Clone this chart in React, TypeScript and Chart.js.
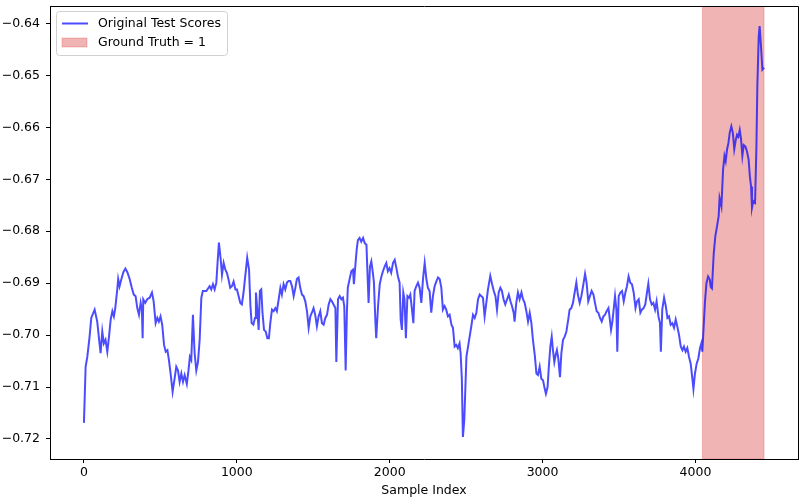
import React, { useEffect, useRef } from "react";
import { Chart, registerables } from "chart.js";

Chart.register(...registerables);

const seriesLabel = "Original Test Scores";
const spanLabel = "Ground Truth = 1";
const xAxisTitle = "Sample Index";

const sampleIndex = [
  0, 11, 22, 37, 48, 70, 87, 102, 109, 120, 130, 141, 153, 164, 175, 186, 196, 205, 218, 224,
  233, 245, 258, 271, 284, 299, 313, 326, 338, 349, 360, 371, 379, 384, 388, 401, 414, 430, 445, 456,
  469, 480, 490, 501, 512, 524, 535, 546, 556, 567, 580, 593, 604, 615, 626, 637, 648, 659, 673, 684,
  693, 702, 713, 724, 735, 746, 757, 768, 778, 801, 822, 833, 844, 855, 866, 874, 883, 895, 903, 914,
  925, 935, 946, 957, 968, 979, 991, 1001, 1012, 1023, 1033, 1044, 1055, 1068, 1080, 1089, 1097, 1108, 1119, 1125,
  1134, 1143, 1151, 1160, 1168, 1178, 1189, 1200, 1210, 1219, 1230, 1241, 1252, 1262, 1274, 1285, 1295, 1306, 1317, 1328,
  1339, 1350, 1361, 1372, 1383, 1393, 1404, 1415, 1426, 1437, 1448, 1459, 1470, 1481, 1491, 1502, 1513, 1524, 1535, 1546,
  1557, 1568, 1579, 1590, 1601, 1612, 1622, 1633, 1645, 1651, 1662, 1673, 1684, 1694, 1703, 1712, 1720, 1726, 1738, 1749,
  1760, 1766, 1775, 1784, 1792, 1803, 1814, 1826, 1837, 1848, 1854, 1862, 1871, 1880, 1890, 1897, 1906, 1912, 1924, 1935,
  1946, 1956, 1967, 1978, 1988, 1999, 2010, 2022, 2033, 2044, 2054, 2065, 2072, 2080, 2089, 2097, 2106, 2116, 2126, 2135,
  2146, 2155, 2163, 2174, 2185, 2196, 2207, 2218, 2229, 2240, 2250, 2261, 2272, 2283, 2294, 2306, 2316, 2327, 2338, 2348,
  2359, 2370, 2381, 2392, 2404, 2414, 2425, 2436, 2446, 2457, 2464, 2472, 2479, 2488, 2502, 2523, 2534, 2545, 2556, 2567,
  2578, 2589, 2600, 2610, 2621, 2632, 2643, 2658, 2670, 2681, 2692, 2702, 2713, 2724, 2734, 2745, 2756, 2768, 2779, 2790,
  2800, 2811, 2817, 2828, 2839, 2850, 2862, 2872, 2883, 2894, 2905, 2916, 2927, 2937, 2949, 2960, 2970, 2981, 2992, 3003,
  3014, 3022, 3033, 3041, 3051, 3060, 3068, 3077, 3086, 3094, 3103, 3114, 3123, 3134, 3145, 3156, 3166, 3177, 3188, 3199,
  3210, 3221, 3231, 3243, 3254, 3265, 3278, 3288, 3299, 3310, 3321, 3333, 3343, 3354, 3365, 3376, 3387, 3398, 3408, 3419,
  3431, 3439, 3448, 3457, 3465, 3474, 3483, 3489, 3498, 3509, 3520, 3531, 3542, 3552, 3563, 3574, 3585, 3596, 3608, 3618,
  3629, 3640, 3650, 3661, 3672, 3683, 3692, 3703, 3714, 3725, 3736, 3746, 3758, 3768, 3774, 3783, 3795, 3806, 3817, 3827,
  3838, 3849, 3860, 3871, 3881, 3893, 3904, 3915, 3925, 3936, 3947, 3958, 3969, 3980, 3987, 3997, 4008, 4019, 4030, 4039,
  4045, 4054, 4062, 4072, 4083, 4094, 4100, 4108, 4120, 4130, 4141, 4152, 4158, 4170, 4181, 4190, 4198, 4207, 4216, 4224,
  4235, 4245, 4254, 4264, 4272, 4281, 4290, 4298, 4307, 4316, 4327, 4337, 4348, 4356, 4364, 4370, 4379, 4390, 4399, 4405,
  4414, 4420, 4429, 4438, 4449,
];

const testScore = [
  -0.7169, -0.7061, -0.7042, -0.7003, -0.6967, -0.6951, -0.6974, -0.7016, -0.7035, -0.6993, -0.7016, -0.7009, -0.7032, -0.7003, -0.6970, -0.6954, -0.6964, -0.6948, -0.6912, -0.6892,
  -0.6906, -0.6892, -0.6879, -0.6872, -0.6879, -0.6892, -0.6909, -0.6922, -0.6925, -0.6948, -0.6961, -0.6938, -0.6951, -0.7006, -0.6931, -0.6938, -0.6931, -0.6928, -0.6918, -0.6935,
  -0.6977, -0.6967, -0.6974, -0.6964, -0.6980, -0.7019, -0.7032, -0.7029, -0.7048, -0.7074, -0.7109, -0.7084, -0.7061, -0.7068, -0.7090, -0.7074, -0.7090, -0.7077, -0.7094, -0.7068,
  -0.7042, -0.7048, -0.6961, -0.7035, -0.7068, -0.7052, -0.7009, -0.6928, -0.6915, -0.6915, -0.6906, -0.6912, -0.6902, -0.6912, -0.6899, -0.6861, -0.6822, -0.6855, -0.6884, -0.6861,
  -0.6874, -0.6880, -0.6893, -0.6909, -0.6906, -0.6897, -0.6912, -0.6912, -0.6925, -0.6938, -0.6941, -0.6918, -0.6887, -0.6851, -0.6874, -0.6944, -0.6977, -0.6980, -0.6967, -0.6918,
  -0.6951, -0.6990, -0.6915, -0.6912, -0.6957, -0.6990, -0.6993, -0.7006, -0.7006, -0.6977, -0.6951, -0.6954, -0.6948, -0.6954, -0.6931, -0.6909, -0.6922, -0.6902, -0.6912, -0.6899,
  -0.6896, -0.6896, -0.6906, -0.6925, -0.6909, -0.6892, -0.6889, -0.6909, -0.6922, -0.6925, -0.6935, -0.6954, -0.6986, -0.6964, -0.6957, -0.6948, -0.6961, -0.6983, -0.6964, -0.6954,
  -0.6977, -0.6980, -0.6967, -0.6961, -0.6941, -0.6931, -0.6935, -0.6941, -0.6948, -0.7052, -0.6931, -0.6925, -0.6931, -0.6928, -0.6944, -0.7068, -0.6957, -0.6909, -0.6892, -0.6877,
  -0.6874, -0.6902, -0.6868, -0.6836, -0.6817, -0.6813, -0.6820, -0.6813, -0.6823, -0.6826, -0.6874, -0.6938, -0.6868, -0.6858, -0.6880, -0.6899, -0.6970, -0.7006, -0.6944, -0.6902,
  -0.6887, -0.6877, -0.6868, -0.6861, -0.6877, -0.6871, -0.6880, -0.6861, -0.6855, -0.6871, -0.6887, -0.6899, -0.6970, -0.6990, -0.6918, -0.6931, -0.7006, -0.6925, -0.6928, -0.6922,
  -0.6951, -0.6977, -0.6915, -0.6906, -0.6899, -0.6909, -0.6938, -0.6892, -0.6861, -0.6892, -0.6909, -0.6915, -0.6957, -0.6925, -0.6906, -0.6896, -0.6889, -0.6892, -0.6909, -0.6951,
  -0.6944, -0.6951, -0.6964, -0.6961, -0.6980, -0.6986, -0.7022, -0.7019, -0.7025, -0.7016, -0.7035, -0.7084, -0.7196, -0.7164, -0.7042, -0.7003, -0.6983, -0.6961, -0.6967, -0.6957,
  -0.6931, -0.6922, -0.6925, -0.6928, -0.6964, -0.6938, -0.6912, -0.6886, -0.6902, -0.6915, -0.6925, -0.6951, -0.6918, -0.6909, -0.6915, -0.6931, -0.6941, -0.6931, -0.6922, -0.6935,
  -0.6944, -0.6957, -0.6974, -0.6938, -0.6918, -0.6931, -0.6918, -0.6931, -0.6938, -0.6954, -0.6974, -0.6957, -0.6977, -0.7009, -0.7038, -0.7074, -0.7077, -0.7061, -0.7084, -0.7087,
  -0.7103, -0.7113, -0.7100, -0.7061, -0.7022, -0.7003, -0.7029, -0.7052, -0.7038, -0.7029, -0.7045, -0.7081, -0.7035, -0.7009, -0.7003, -0.6993, -0.6974, -0.6951, -0.6948, -0.6938,
  -0.6918, -0.6899, -0.6922, -0.6938, -0.6925, -0.6906, -0.6882, -0.6899, -0.6935, -0.6925, -0.6915, -0.6922, -0.6938, -0.6954, -0.6957, -0.6967, -0.6974, -0.6964, -0.6961, -0.6954,
  -0.6948, -0.6967, -0.6990, -0.6974, -0.6951, -0.6925, -0.6951, -0.7032, -0.6925, -0.6918, -0.6915, -0.6935, -0.6918, -0.6906, -0.6887, -0.6899, -0.6902, -0.6918, -0.6948, -0.6935,
  -0.6931, -0.6957, -0.6951, -0.6948, -0.6941, -0.6918, -0.6901, -0.6931, -0.6941, -0.6938, -0.6951, -0.6935, -0.6964, -0.6977, -0.7032, -0.6951, -0.6928, -0.6944, -0.6967, -0.6964,
  -0.6980, -0.6977, -0.6986, -0.6970, -0.6983, -0.7000, -0.7022, -0.7029, -0.7022, -0.7032, -0.7025, -0.7042, -0.7055, -0.7084, -0.7104, -0.7074, -0.7055, -0.7045, -0.7025, -0.7016,
  -0.7032, -0.6983, -0.6938, -0.6900, -0.6887, -0.6893, -0.6907, -0.6910, -0.6842, -0.6810, -0.6791, -0.6771, -0.6736, -0.6752, -0.6681, -0.6655, -0.6665, -0.6642, -0.6630, -0.6611,
  -0.6598, -0.6611, -0.6642, -0.6624, -0.6614, -0.6618, -0.6605, -0.6621, -0.6655, -0.6634, -0.6637, -0.6646, -0.6662, -0.6694, -0.6714, -0.6755, -0.6742, -0.6745, -0.6637, -0.6521,
  -0.6425, -0.6405, -0.6444, -0.6489, -0.6485,
];

const xTickValues = [0, 1000, 2000, 3000, 4000];
const yTickValues = [-0.72, -0.71, -0.7, -0.69, -0.68, -0.67, -0.66, -0.65, -0.64];
const xLimits = [-222, 4671];
const yLimits = [-0.72386, -0.63663];
const groundTruthRange = [4046, 4449];

const FONT = { family: "'DejaVu Sans'", size: 12.5 };
const LINE_COLOR = "rgba(0, 0, 255, 0.7)";
const SPAN_FILL = "rgba(214, 39, 40, 0.35)";
const SPAN_EDGE = "rgba(214, 39, 40, 0.25)";

const spanPlugin = {
  id: "groundTruthSpan",
  beforeDatasetsDraw(chart: any) {
    const { ctx, chartArea, scales } = chart;
    const x0 = scales.x.getPixelForValue(groundTruthRange[0]);
    const x1 = scales.x.getPixelForValue(groundTruthRange[1]);
    ctx.save();
    ctx.beginPath();
    ctx.rect(chartArea.left, chartArea.top, chartArea.right - chartArea.left, chartArea.bottom - chartArea.top);
    ctx.clip();
    ctx.fillStyle = SPAN_FILL;
    ctx.fillRect(x0, chartArea.top, x1 - x0, chartArea.bottom - chartArea.top);
    ctx.strokeStyle = SPAN_EDGE;
    ctx.lineWidth = 1;
    ctx.strokeRect(x0, chartArea.top, x1 - x0, chartArea.bottom - chartArea.top);
    ctx.restore();
  },
};

const framePlugin = {
  id: "frameAndLegend",
  afterDraw(chart: any) {
    const { ctx, chartArea } = chart;
    const { left, right, top, bottom } = chartArea;
    ctx.save();
    ctx.strokeStyle = "#000";
    ctx.lineWidth = 1;
    ctx.beginPath();
    ctx.moveTo(Math.round(left) + 0.5, Math.round(top) + 0.5);
    ctx.lineTo(Math.round(right) + 0.5, Math.round(top) + 0.5);
    ctx.lineTo(Math.round(right) + 0.5, Math.round(bottom) + 0.5);
    ctx.stroke();

    // legend box (upper left)
    const bx = Math.round(left) + 6.5;
    const by = Math.round(top) + 5.5;
    const bw = 171;
    const bh = 44;
    ctx.beginPath();
    ctx.roundRect(bx, by, bw, bh, 3);
    ctx.fillStyle = "rgba(255,255,255,0.8)";
    ctx.fill();
    ctx.strokeStyle = "#d0d0d0";
    ctx.stroke();

    const row1 = by + 12;
    const row2 = by + 31;
    ctx.strokeStyle = LINE_COLOR;
    ctx.lineWidth = 2;
    ctx.beginPath();
    ctx.moveTo(bx + 5.5, row1);
    ctx.lineTo(bx + 31.5, row1);
    ctx.stroke();

    ctx.fillStyle = SPAN_FILL;
    ctx.fillRect(bx + 5.5, row2 - 4.5, 25, 9);
    ctx.strokeStyle = SPAN_EDGE;
    ctx.lineWidth = 1;
    ctx.strokeRect(bx + 5.5, row2 - 4.5, 25, 9);

    ctx.fillStyle = "#000";
    ctx.font = `${FONT.size}px ${FONT.family}`;
    ctx.textBaseline = "middle";
    ctx.textAlign = "left";
    ctx.fillText(seriesLabel, bx + 41.5, row1);
    ctx.fillText(spanLabel, bx + 41.5, row2);
    ctx.restore();
  },
};

const fmtY = (v: number) => (v < 0 ? "\u2212" : "") + Math.abs(v).toFixed(2);

export default function App() {
  const canvasRef = useRef<HTMLCanvasElement | null>(null);

  useEffect(() => {
    document.body.style.margin = "0";
    const canvas = canvasRef.current;
    if (!canvas) return;
    const points = sampleIndex.map((x, i) => ({ x, y: testScore[i] }));
    const chart = new Chart(canvas, {
      type: "line",
      data: {
        datasets: [
          {
            label: seriesLabel,
            data: points,
            borderColor: LINE_COLOR,
            backgroundColor: LINE_COLOR,
            borderWidth: 2,
            pointRadius: 0,
            tension: 0,
            fill: false,
          },
        ],
      },
      options: {
        animation: false,
        responsive: false,
        devicePixelRatio: 1,
        layout: { padding: { top: 6, right: 7, left: 0, bottom: 0 } },
        plugins: { legend: { display: false }, tooltip: { enabled: false }, title: { display: false } },
        scales: {
          x: {
            type: "linear",
            min: xLimits[0],
            max: xLimits[1],
            afterBuildTicks: (s: any) => {
              s.ticks = xTickValues.map((value) => ({ value }));
            },
            afterFit: (s: any) => {
              s.height = 41;
              s.paddingLeft = 0;
              s.paddingRight = 0;
            },
            grid: { drawOnChartArea: false, drawTicks: true, tickLength: 4, color: "#000", lineWidth: 1 },
            border: { display: true, color: "#000", width: 1 },
            ticks: {
              padding: 2,
              color: "#000",
              font: FONT,
              maxRotation: 0,
              autoSkip: false,
              callback: (v: any) => String(v),
            },
            title: { display: true, text: xAxisTitle, color: "#000", font: FONT, padding: { top: 0, bottom: 2 } },
          },
          y: {
            type: "linear",
            min: yLimits[0],
            max: yLimits[1],
            afterBuildTicks: (s: any) => {
              s.ticks = yTickValues.map((value) => ({ value }));
            },
            afterFit: (s: any) => {
              s.width = 50;
              s.paddingTop = 0;
              s.paddingBottom = 0;
            },
            grid: { drawOnChartArea: false, drawTicks: true, tickLength: 4, color: "#000", lineWidth: 1 },
            border: { display: true, color: "#000", width: 1 },
            ticks: {
              padding: 6,
              color: "#000",
              font: FONT,
              autoSkip: false,
              callback: (v: any) => fmtY(Number(v)),
            },
          },
        },
      },
      plugins: [spanPlugin, framePlugin],
    } as any);
    return () => chart.destroy();
  }, []);

  return (
    <div style={{ width: 805, height: 500 }}>
      <canvas ref={canvasRef} width={805} height={500} style={{ display: "block" }} />
    </div>
  );
}
